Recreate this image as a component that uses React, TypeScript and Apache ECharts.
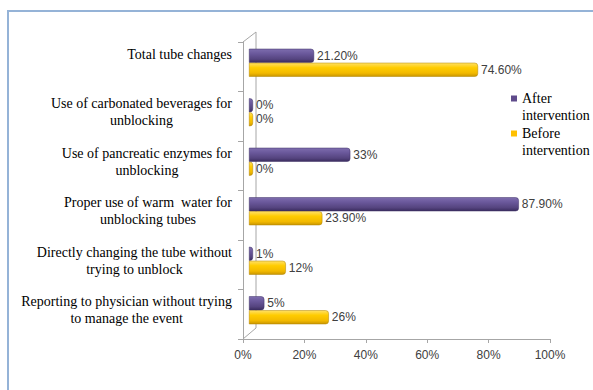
import React, { useEffect, useRef } from "react";
import * as echarts from "echarts";

const categories = [
  "Total tube changes",
  "Use of carbonated beverages for\nunblocking",
  "Use of pancreatic enzymes for\nunblocking",
  "Proper use of warm  water for\nunblocking tubes",
  "Directly changing the tube without\ntrying to unblock",
  "Reporting to physician without trying\nto manage the event",
];
const seriesNames = ["After\nintervention", "Before\nintervention"];
const afterValues = [21.2, 0, 33, 87.9, 1, 5];
const beforeValues = [74.6, 0, 0, 23.9, 12, 26];
const xTicks = [0, 20, 40, 60, 80, 100];

const GL = 243;
const GR = 550;
const GT = 42;
const GB = 339;
const W = 593;
const H = 390;

const SERIF = "'Liberation Serif', 'Times New Roman', serif";
const SANS = "'Liberation Sans', Arial, sans-serif";

const fmt = (v: number) => (Number.isInteger(v) ? `${v}%` : `${v.toFixed(2)}%`);

const purpleGrad = new echarts.graphic.LinearGradient(0, 0, 0, 1, [
  { offset: 0, color: "#7E6DAE" },
  { offset: 0.35, color: "#6A589B" },
  { offset: 0.75, color: "#55447F" },
  { offset: 1, color: "#3A2C5E" },
]);
const yellowGrad = new echarts.graphic.LinearGradient(0, 0, 0, 1, [
  { offset: 0, color: "#FFE066" },
  { offset: 0.35, color: "#FFCC00" },
  { offset: 0.75, color: "#F2B900" },
  { offset: 1, color: "#C99600" },
]);

export default function App() {
  const ref = useRef<HTMLDivElement>(null);
  useEffect(() => {
    document.body.style.margin = "0";
    if (!ref.current) return;
    const chart = echarts.init(ref.current, undefined, { renderer: "svg" });
    const labelStyle = {
      show: true,
      position: "right" as const,
      distance: 3,
      color: "#404040",
      fontFamily: SANS,
      fontSize: 12,
      formatter: (p: any) => fmt(p.value),
    };
    chart.setOption({
      animation: false,
      backgroundColor: "#ffffff",
      legend: {
        orient: "vertical",
        left: 511,
        top: 73,
        padding: 0,
        icon: "rect",
        itemWidth: 6,
        itemHeight: 6,
        itemGap: -16,
        selectedMode: false,
        formatter: (name: string) => `\n${name}`,
        textStyle: {
          fontFamily: SERIF,
          fontSize: 14,
          lineHeight: 17,
          color: "#000000",
        },
        data: [
          { name: seriesNames[0], itemStyle: { color: "#5F4B8B", borderWidth: 0 } },
          { name: seriesNames[1], itemStyle: { color: "#FFC000", borderWidth: 0 } },
        ],
      },
      grid: [
        { left: GL, right: W - GR, top: GT, bottom: H - GB },
        { left: GL + 6, right: W - GR - 6, top: GT - 4, bottom: H - GB + 4 },
      ],
      xAxis: [
        {
          gridIndex: 0,
          type: "value",
          min: 0,
          max: 100,
          interval: 20,
          axisLine: { show: true, lineStyle: { color: "#A6A6A6" } },
          axisTick: { show: true, length: 4, lineStyle: { color: "#A6A6A6" } },
          splitLine: { show: false },
          axisLabel: {
            margin: 10,
            color: "#404040",
            fontFamily: SANS,
            fontSize: 12,
            formatter: (v: number) => `${v}%`,
            customValues: xTicks,
          },
        },
        {
          gridIndex: 1,
          type: "value",
          min: 0,
          max: 100,
          show: false,
        },
      ],
      yAxis: [
        {
          gridIndex: 0,
          type: "category",
          inverse: true,
          data: categories,
          axisLine: { show: true, lineStyle: { color: "#A6A6A6" } },
          axisTick: { show: true, length: 5, lineStyle: { color: "#A6A6A6" } },
          axisLabel: { show: false },
        },
        {
          gridIndex: 1,
          type: "category",
          inverse: true,
          data: categories,
          axisLine: { show: false },
          axisTick: { show: false },
          axisLabel: {
            margin: 17,
            color: "#000000",
            fontFamily: SERIF,
            fontSize: 14,
            lineHeight: 17,
            formatter: (v: string) => {
              const lines = v.split("\n").map((l) => `{c|${l}}`);
              if (lines.length === 1) lines.push("{c| }");
              return lines.join("\n");
            },
            rich: {
              c: {
                align: "center",
                fontFamily: SERIF,
                fontSize: 14,
                lineHeight: 17,
                color: "#000000",
              },
            },
          },
        },
      ],
      series: [
        {
          name: seriesNames[0],
          type: "bar",
          xAxisIndex: 1,
          yAxisIndex: 1,
          data: afterValues,
          barWidth: 14,
          barGap: "0%",
          barMinHeight: 4,
          itemStyle: {
            color: purpleGrad,
            borderColor: "#3E3066",
            borderWidth: 0.5,
            borderRadius: [0, 3, 3, 0],
          },
          label: labelStyle,
        },
        {
          name: seriesNames[1],
          type: "bar",
          xAxisIndex: 1,
          yAxisIndex: 1,
          data: beforeValues,
          barWidth: 14,
          barGap: "0%",
          barMinHeight: 4,
          itemStyle: {
            color: yellowGrad,
            borderColor: "#B08400",
            borderWidth: 0.5,
            borderRadius: [0, 3, 3, 0],
          },
          label: labelStyle,
        },
      ],
      graphic: [
        {
          type: "rect",
          silent: true,
          shape: { x: 8, y: 11, width: 600, height: 400 },
          style: { fill: "none", stroke: "#95B3D7", lineWidth: 2 },
        },
        {
          type: "polyline",
          silent: true,
          shape: {
            points: [
              [GL, GT],
              [GL + 13, GT - 10],
              [GL + 13, GB - 11],
              [GL, GB],
            ],
          },
          style: { fill: "none", stroke: "#A6A6A6", lineWidth: 1 },
        },
      ],
    });
    return () => chart.dispose();
  }, []);
  return <div ref={ref} style={{ width: W, height: H }} />;
}
